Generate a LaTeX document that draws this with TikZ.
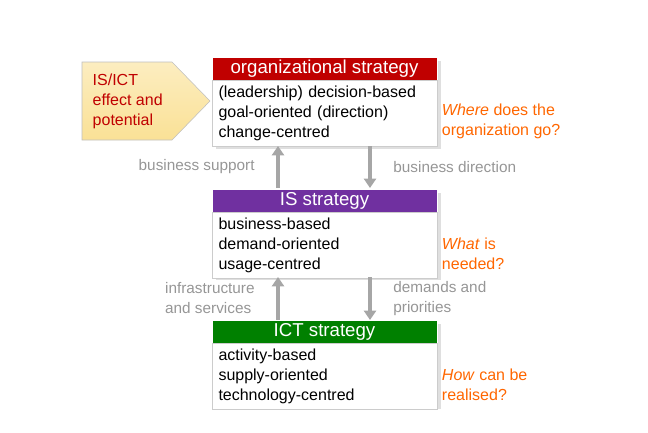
\documentclass[tikz,border=0pt]{standalone}
\usepackage{fontspec}
\setmainfont{Liberation Sans}
\usetikzlibrary{positioning}
\usetikzlibrary{arrows.meta}
\usetikzlibrary{calc}
\definecolor{redhead}{RGB}{192,0,0}
\definecolor{purplehead}{RGB}{112,48,160}
\definecolor{greenhead}{RGB}{0,128,0}
\definecolor{quest}{RGB}{255,102,0}
\definecolor{flowtext}{RGB}{150,150,150}
\definecolor{pent}{RGB}{250,225,150}
\tikzstyle{head}=[rectangle, minimum width=225pt*0.75, minimum height=23pt*0.75, inner sep=0pt, text=white, font=\fontsize{14}{14}\selectfont, draw=white, line width=0.6pt]
\tikzstyle{body}=[rectangle, minimum width=225pt*0.75, minimum height=63pt*0.75, inner sep=4pt, fill=white, draw=gray!40, align=left, text width=212pt*0.75, font=\fontsize{12}{15}\selectfont]
\tikzstyle{question}=[align=left, anchor=west, text=quest, font=\fontsize{12}{15}\selectfont]
\tikzstyle{flow}=[text=flowtext, font=\fontsize{11.5}{15}\selectfont, align=left]
\tikzstyle{updown}=[-{Triangle[length=7pt,width=9pt]}, line width=3pt, draw=gray!70]

\begin{document}
\begin{tikzpicture}[x=0.75pt, y=-0.75pt]
	\useasboundingbox (0,0) rectangle (648,432);
	% shadows
	\fill[gray!25] (216,61) rectangle (441,149);
	\fill[gray!25] (216,193) rectangle (441,280);
	\fill[gray!25] (216,324) rectangle (441,409);
	% strategy boxes
	\node (OrgHead) at (324.5,68.5) [head, fill=redhead] {organizational strategy};
	\node (OrgBody) [below = 0pt of OrgHead, body] {(leadership) decision-based\\goal-oriented (direction)\\change-centred};
	\node (ISHead) at (324.5,200.5) [head, fill=purplehead] {IS strategy};
	\node (ISBody) [below = 0pt of ISHead, body] {business-based\\demand-oriented\\usage-centred};
	\node (ICTHead) at (324.5,331.5) [head, fill=greenhead] {ICT strategy};
	\node (ICTBody) [below = 0pt of ICTHead, body, minimum height=60pt*0.75] {activity-based\\supply-oriented\\technology-centred};
	% pentagon
	\draw[gray!50, top color=pent!60, bottom color=pent] (82,62) -- (172,62) -- (210,101) -- (172,140) -- (82,140) -- cycle;
	\node (Effect) at (88,101) [anchor=west, align=left, text=redhead, font=\fontsize{12}{15}\selectfont] {IS/ICT\\effect and\\potential};
	% questions
	\node (QOrg) [right = 0pt of OrgBody.east, yshift=-6pt, question] {\textit{Where} does the\\organization go?};
	\node (QIS) [right = 0pt of ISBody.east, yshift=-6pt, question] {\textit{What} is\\needed?};
	\node (QICT) [right = 0pt of ICTBody.east, yshift=-6pt, question] {\textit{How} can be\\realised?};
	% arrows between levels
	\coordinate (UpA) at (278,188);
	\coordinate (UpB) at (278,146);
	\coordinate (DownA) at (370,146);
	\coordinate (DownB) at (370,188);
	\coordinate (UpC) at (278,320);
	\coordinate (UpD) at (278,277);
	\coordinate (DownC) at (370,277);
	\coordinate (DownD) at (370,320);
	\draw[updown] (UpA) -- (UpB);
	\draw[updown] (DownA) -- (DownB);
	\draw[updown] (UpC) -- (UpD);
	\draw[updown] (DownC) -- (DownD);
	\node (Support) [left = 14pt of $(UpA)!0.5!(UpB)$, flow] {business support};
	\node (Direction) [right = 14pt of $(DownA)!0.5!(DownB)$, flow] {business direction};
	\node (Infra) [left = 14pt of $(UpC)!0.5!(UpD)$, flow] {infrastructure\\and services};
	\node (Demands) [right = 14pt of $(DownC)!0.5!(DownD)$, flow] {demands and\\priorities};
\end{tikzpicture}
\end{document}
